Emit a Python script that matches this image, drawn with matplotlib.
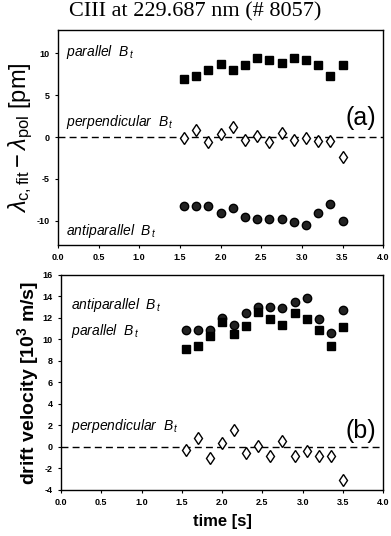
import numpy as np
import matplotlib
matplotlib.use("Agg")
import matplotlib.pyplot as plt

# ---- data ----
time = [1.55, 1.70, 1.85, 2.00, 2.15, 2.30, 2.45, 2.60, 2.75, 2.90, 3.05, 3.20, 3.35, 3.50]

a_parallel = [7.0, 7.3, 8.0, 8.7, 8.0, 8.65, 9.5, 9.2, 8.8, 9.5, 9.2, 8.6, 7.3, 8.6]
a_perpendicular = [-0.1, 0.8, -0.6, 0.4, 1.2, -0.4, 0.1, -0.6, 0.5, -0.4, -0.1, -0.5, -0.5, -2.4]
a_antiparallel = [-8.3, -8.3, -8.3, -9.1, -8.5, -9.6, -9.8, -9.8, -9.8, -10.2, -10.5, -9.1, -8.0, -10.0]

b_antiparallel = [10.9, 10.9, 10.9, 12.0, 11.3, 12.5, 13.0, 13.0, 12.9, 13.5, 13.9, 11.9, 10.6, 12.75]
b_parallel = [9.1, 9.4, 10.3, 11.6, 10.5, 11.25, 12.6, 11.9, 11.3, 12.5, 11.9, 10.9, 9.4, 11.2]
b_perpendicular = [-0.3, 0.85, -1.0, 0.4, 1.6, -0.55, 0.05, -0.8, 0.55, -0.8, -0.4, -0.8, -0.8, -3.1]

xticks = [0.0, 0.5, 1.0, 1.5, 2.0, 2.5, 3.0, 3.5, 4.0]
a_yticks = [-10, -5, 0, 5, 10]
b_yticks = [-4, -2, 0, 2, 4, 6, 8, 10, 12, 14, 16]

plt.rcParams['font.family'] = ['Liberation Sans', 'DejaVu Sans']
plt.rcParams['mathtext.fontset'] = 'custom'
plt.rcParams['mathtext.rm'] = 'Liberation Sans'
plt.rcParams['mathtext.it'] = 'Liberation Sans:italic'
plt.rcParams['mathtext.bf'] = 'Liberation Sans:bold'

fig = plt.figure(figsize=(3.91, 5.36), dpi=100)
ax1 = fig.add_axes([0.148, 0.543, 0.832, 0.401])
ax2 = fig.add_axes([0.156, 0.086, 0.824, 0.401])

sq = dict(marker='s', ms=5.8, mfc='black', mec='black', ls='none')
ci = dict(marker='o', ms=6.0, mfc='#222222', mec='black', ls='none')
di = dict(marker='d', ms=6.5, mfc='white', mec='black', mew=1.0, ls='none')

for ax in (ax1, ax2):
    ax.axhline(0, color='black', lw=1.0, ls=(0, (5, 3)), zorder=1)
    ax.set_xlim(0, 4)
    ax.set_xticks(xticks)
    ax.set_xticklabels([f"{t:.1f}" for t in xticks], fontsize=6.5, fontweight='bold')
    ax.tick_params(direction='out', length=2, width=0.8, pad=4)
    for s in ax.spines.values():
        s.set_linewidth(1.0)

# panel (a)
ax1.plot(time, a_parallel, **sq)
ax1.plot(time, a_perpendicular, **di)
ax1.plot(time, a_antiparallel, **ci)
ax1.set_ylim(-12.9, 12.8)
ax1.set_yticks(a_yticks)
ax1.set_yticklabels([str(v) for v in a_yticks], fontsize=6.5, fontweight='bold')
ax1.set_ylabel(r'$\lambda_{\mathrm{c,fit}} - \lambda_{\mathrm{pol}}$ [pm]', fontsize=17, labelpad=1)
tk = dict(fontsize=10, style='italic', ha='left', va='center')
ax1.text(0.1, 10.2, r'parallel  $B_{\,t}$', **tk)
ax1.text(0.1, 1.8, r'perpendicular  $B_{\,t}$', **tk)
ax1.text(0.1, -11.2, r'antiparallel  $B_{\,t}$', **tk)
ax1.text(3.72, 2.3, '(a)', fontsize=18, ha='center', va='center')

# panel (b)
ax2.plot(time, b_antiparallel, **ci)
ax2.plot(time, b_parallel, **sq)
ax2.plot(time, b_perpendicular, **di)
ax2.set_ylim(-4, 16)
ax2.set_yticks(b_yticks)
ax2.set_yticklabels([str(v) for v in b_yticks], fontsize=6.5, fontweight='bold')
ax2.set_ylabel(r'drift velocity [10$^{\mathbf{3}}$ m/s]', fontsize=14, fontweight='bold', labelpad=1)
ax2.set_xlabel('time [s]', fontsize=12, fontweight='bold', labelpad=5)
ax2.text(0.12, 13.2, r'antiparallel  $B_{\,t}$', **tk)
ax2.text(0.12, 10.8, r'parallel  $B_{\,t}$', **tk)
ax2.text(0.12, 1.9, r'perpendicular  $B_{\,t}$', **tk)
ax2.text(3.72, 1.5, '(b)', fontsize=18, ha='center', va='center')

fig.text(0.5, 0.977, 'CIII at 229.687 nm (# 8057)', fontsize=16,
         family=['Liberation Serif', 'DejaVu Serif'], ha='center', va='center')

fig.savefig('out.png', dpi=100)
